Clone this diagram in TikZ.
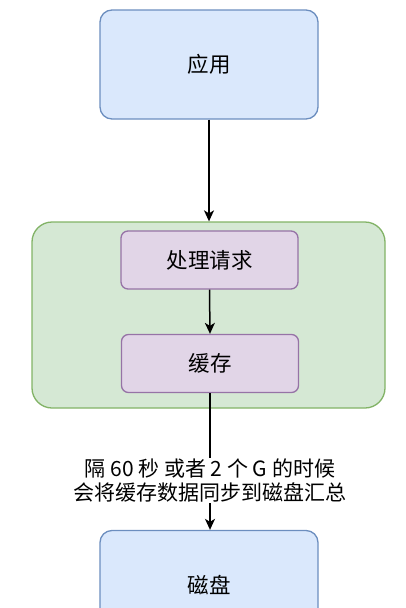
\documentclass[tikz,border=0pt]{standalone}
\usepackage{fontspec}
\setmainfont{Noto Sans CJK SC}
\usetikzlibrary{arrows.meta}
\definecolor{bluefill}{HTML}{DAE8FC}
\definecolor{bluedraw}{HTML}{6C8EBF}
\definecolor{greenfill}{HTML}{D5E8D4}
\definecolor{greendraw}{HTML}{82B366}
\definecolor{purplefill}{HTML}{E1D5E7}
\definecolor{purpledraw}{HTML}{9673A6}
\tikzset{
  bluebox/.style={draw=bluedraw, fill=bluefill, line width=1.3pt, rounded corners=12pt, minimum width=218pt, minimum height=109pt, font=\fontsize{21.5}{24}\selectfont, inner sep=0pt},
  greenbox/.style={draw=greendraw, fill=greenfill, line width=1.3pt, rounded corners=20pt, minimum width=353pt, minimum height=186pt, inner sep=0pt},
  purplebox/.style={draw=purpledraw, fill=purplefill, line width=1.3pt, rounded corners=7pt, minimum width=177pt, minimum height=58pt, font=\fontsize{21.5}{24}\selectfont, inner sep=0pt},
  arr/.style={line width=1.5pt, -{Stealth[length=11pt,width=10pt,inset=3pt]}},
  lbl/.style={fill=white, align=center, font=\fontsize{21}{24}\selectfont, inner sep=1pt}
}
\begin{document}
\begin{tikzpicture}[x=1pt,y=-1pt]
\useasboundingbox (0,0) rectangle (406,608);
\clip (0,0) rectangle (406,608);
\node[bluebox] (app) at (209,64.5) {应用};
\node[greenbox] (grp) at (208.5,315) {};
\node[purplebox] (proc) at (209.5,260) {处理请求};
\node[purplebox] (cache) at (210,363.5) {缓存};
\node[bluebox] (disk) at (209,585) {磁盘};
\draw[arr] (app.south) -- (grp.north -| app.south);
\draw[arr] (proc.south) -- (cache.north);
\draw[arr] (cache.south) -- (disk.north -| cache.south) node[lbl, pos=0.64] {隔 60 秒 或者 2 个 G 的时候\\会将缓存数据同步到磁盘汇总};
\end{tikzpicture}
\end{document}
